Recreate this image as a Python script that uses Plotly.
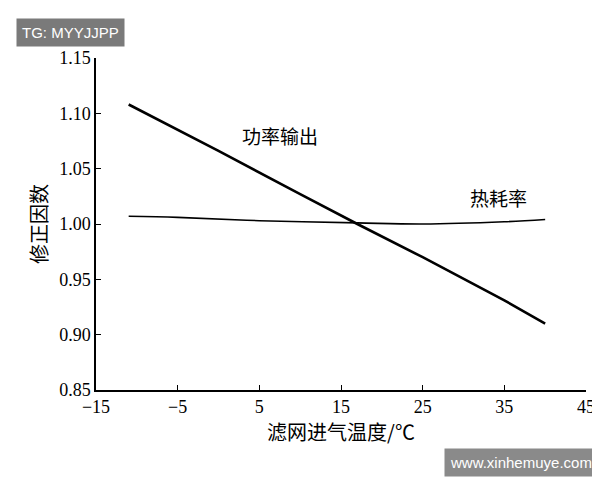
import plotly.graph_objects as go

# 滤网进气温度 (℃) and 修正因数
power_x = [-11, 0, 10, 17, 25, 35, 40]
power_y = [1.108, 1.066, 1.027, 1.000, 0.970, 0.931, 0.910]
heat_x = [-11, -5, 5, 17, 25, 35, 40]
heat_y = [1.007, 1.006, 1.003, 1.001, 1.000, 1.002, 1.004]

x_ticks = [-15, -5, 5, 15, 25, 35, 45]
y_ticks = [0.85, 0.90, 0.95, 1.00, 1.05, 1.10, 1.15]

fig = go.Figure()
fig.add_trace(go.Scatter(x=power_x, y=power_y, mode="lines", line=dict(color="black", width=2.6)))
fig.add_trace(go.Scatter(x=heat_x, y=heat_y, mode="lines", line=dict(color="black", width=1.6, shape="spline")))

cjk = "Noto Sans CJK SC"
fig.add_annotation(x=7.5, y=1.08, text="功率输出", showarrow=False, font=dict(family=cjk, size=19, color="black"))
fig.add_annotation(x=34.3, y=1.024, text="热耗率", showarrow=False, font=dict(family=cjk, size=19, color="black"))

# watermarks
fig.add_annotation(xref="paper", yref="paper", x=-0.163, y=1.12, xanchor="left", yanchor="top",
                   text="TG: MYYJJPP", showarrow=False, bgcolor="#7a7a7a",
                   font=dict(family="Liberation Sans", size=15, color="white"), borderpad=5)
fig.add_annotation(xref="paper", yref="paper", x=1.024, y=-0.175, xanchor="right", yanchor="top",
                   text="www.xinhemuye.com", showarrow=False, bgcolor="#8a8a8a",
                   font=dict(family="Liberation Sans", size=15, color="white"), borderpad=5)

fig.update_layout(
    width=600, height=480, showlegend=False,
    paper_bgcolor="white", plot_bgcolor="white",
    margin=dict(l=88, r=22, t=50, b=98, autoexpand=False),
    font=dict(family="Liberation Serif", size=18, color="black"),
    xaxis=dict(range=[-15, 45], tickvals=x_ticks, ticktext=["−15", "−5", "5", "15", "25", "35", "45"],
               showgrid=False, zeroline=False, showline=True, linecolor="black", linewidth=1.5,
               ticks="inside", ticklen=5, tickcolor="black",
               title=dict(text="滤网进气温度/℃", font=dict(family=cjk, size=20), standoff=6)),
    yaxis=dict(range=[0.85, 1.15], tickvals=y_ticks, tickformat=".2f",
               showgrid=False, zeroline=False, showline=True, linecolor="black", linewidth=1.5,
               ticks="inside", ticklen=5, tickcolor="black",
               title=dict(text="修正因数", font=dict(family=cjk, size=20), standoff=6)),
)

fig.write_html("out.html")
